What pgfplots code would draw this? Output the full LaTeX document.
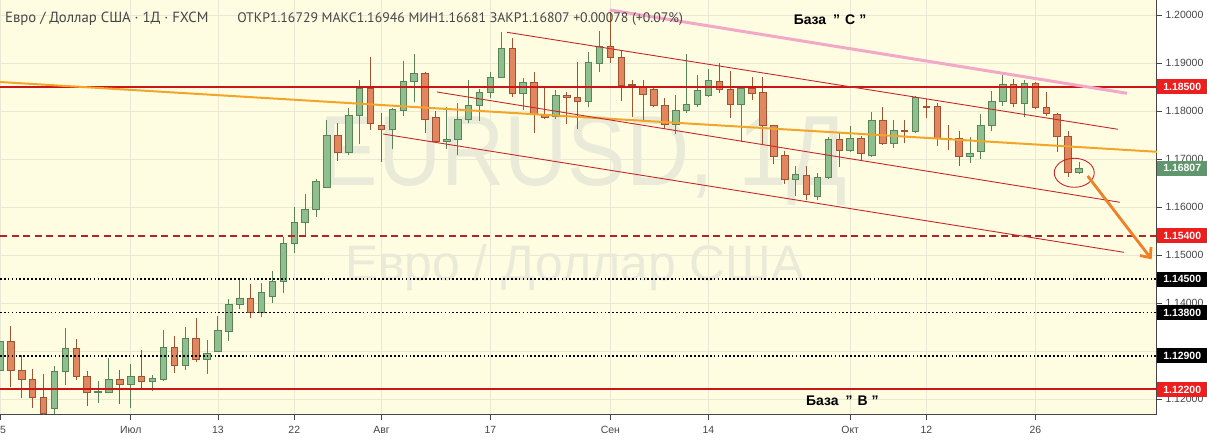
\documentclass[border=0pt]{standalone}
\usepackage{fontspec}
\setmainfont{Liberation Sans}
\newfontfamily\ptsans{PT Sans}
\usepackage{graphicx}
\usepackage{pgfplots}
\usepackage{pgfplotstable}
\pgfplotsset{compat=1.18}
\usetikzlibrary{arrows.meta}

\definecolor{bgy}{RGB}{254,253,226}
\definecolor{gridc}{RGB}{232,232,212}
\definecolor{upfill}{RGB}{143,191,143}
\definecolor{upline}{RGB}{88,132,88}
\definecolor{dnfill}{RGB}{226,134,96}
\definecolor{dnline}{RGB}{158,84,50}
\definecolor{lvlred}{RGB}{204,22,22}
\definecolor{dashred}{RGB}{180,36,36}
\definecolor{chred}{RGB}{198,40,40}
\definecolor{trendor}{RGB}{242,165,40}
\definecolor{arrowor}{RGB}{240,128,40}
\definecolor{pinkl}{RGB}{244,168,200}
\definecolor{wm}{RGB}{234,234,216}
\definecolor{axtxt}{RGB}{70,70,70}
\definecolor{tagred}{RGB}{236,30,30}
\definecolor{taggreen}{RGB}{96,150,110}

\tikzset{
 upwick/.style={draw=upline, line width=1bp},
 dnwick/.style={draw=dnline, line width=1bp},
 upbody/.style={draw=upline, fill=upfill, line width=1bp},
 dnbody/.style={draw=dnline, fill=dnfill, line width=1bp},
 tag/.style={anchor=west, inner sep=0pt, minimum width=50bp, minimum height=15bp, text=white, font=\fontsize{10.5}{12}\selectfont\bfseries},
}

\pgfplotstableread{
i o h l c
0 1.12604 1.13375 1.12562 1.13208
1 1.13208 1.13527 1.12244 1.12604
2 1.12604 1.12917 1.12015 1.12410
3 1.12410 1.12619 1.11819 1.12035
4 1.12035 1.12521 1.11667 1.11702
5 1.11806 1.12688 1.11688 1.12583
6 1.12583 1.13473 1.12292 1.13056
7 1.13056 1.13250 1.12396 1.12465
8 1.12473 1.12590 1.11860 1.12140
9 1.12140 1.12375 1.11923 1.12146
10 1.12140 1.12860 1.12125 1.12396
11 1.12396 1.12604 1.11890 1.12306
12 1.12306 1.12729 1.11819 1.12473
13 1.12473 1.13021 1.12223 1.12360
14 1.12369 1.12500 1.12167 1.12417
15 1.12396 1.13438 1.12375 1.13077
16 1.13077 1.13313 1.12548 1.12708
17 1.12702 1.13506 1.12604 1.13265
18 1.13265 1.13681 1.12777 1.12813
19 1.12827 1.13229 1.12521 1.12952
20 1.12985 1.13729 1.12979 1.13417
21 1.13402 1.14083 1.13215 1.13973
22 1.13973 1.14479 1.13869 1.14098
23 1.14098 1.14396 1.13681 1.13806
24 1.13806 1.14423 1.13702 1.14223
25 1.14140 1.14673 1.14006 1.14452
26 1.14452 1.15381 1.14202 1.15244
27 1.15244 1.16006 1.15048 1.15681
28 1.15681 1.16271 1.15381 1.15952
29 1.15952 1.16590 1.15798 1.16535
30 1.16410 1.17813 1.16406 1.17494
31 1.17494 1.17744 1.16965 1.17140
32 1.17140 1.18056 1.17083 1.17910
33 1.17910 1.18646 1.17306 1.18473
34 1.18473 1.19125 1.17604 1.17744
35 1.17702 1.17952 1.16944 1.17619
36 1.17619 1.18056 1.17202 1.18021
37 1.18015 1.19042 1.17896 1.18619
38 1.18619 1.19181 1.18181 1.18771
39 1.18771 1.18819 1.17548 1.17827
40 1.17869 1.17998 1.17327 1.17360
41 1.17369 1.18077 1.17202 1.17396
42 1.17396 1.18160 1.17083 1.17827
43 1.17827 1.18646 1.17744 1.18119
44 1.18119 1.18458 1.17798 1.18390
45 1.18390 1.18819 1.18265 1.18702
46 1.18702 1.19652 1.18688 1.19306
47 1.19306 1.19515 1.18285 1.18369
48 1.18369 1.18681 1.18021 1.18598
49 1.18598 1.18819 1.17535 1.17931
50 1.17902 1.18473 1.17827 1.17869
51 1.17881 1.18438 1.17827 1.18319
52 1.18319 1.18402 1.17729 1.18277
53 1.18285 1.19027 1.17619 1.18194
54 1.18202 1.19223 1.18077 1.19015
55 1.18994 1.19667 1.18819 1.19340
56 1.19340 1.20063 1.18994 1.19119
57 1.19119 1.19271 1.18214 1.18527
58 1.18542 1.18646 1.17881 1.18521
59 1.18485 1.18646 1.17813 1.18348
60 1.18452 1.18479 1.18083 1.18110
61 1.18110 1.18265 1.17619 1.17723
62 1.17729 1.18333 1.17515 1.18006
63 1.18015 1.19188 1.17965 1.18140
64 1.18140 1.18750 1.18090 1.18431
65 1.18327 1.18875 1.18298 1.18625
66 1.18619 1.19006 1.18381 1.18458
67 1.18452 1.18833 1.17860 1.18140
68 1.18140 1.18521 1.17360 1.18465
69 1.18473 1.18702 1.18229 1.18369
70 1.18390 1.18715 1.17313 1.17702
71 1.17702 1.17708 1.16896 1.17048
72 1.17063 1.17173 1.16479 1.16577
73 1.16577 1.16854 1.16229 1.16667
74 1.16660 1.16854 1.16146 1.16265
75 1.16215 1.16702 1.16146 1.16619
76 1.16610 1.17465 1.16583 1.17410
77 1.17410 1.17548 1.16827 1.17173
78 1.17173 1.17688 1.17152 1.17431
79 1.17431 1.17479 1.16979 1.17119
80 1.17083 1.17985 1.17048 1.17806
81 1.17806 1.18090 1.17292 1.17327
82 1.17327 1.17813 1.17223 1.17598
83 1.17598 1.17813 1.17327 1.17583
84 1.17569 1.18313 1.17535 1.18285
85 1.18098 1.18244 1.17848 1.18083
86 1.18098 1.18173 1.17271 1.17431
87 1.17427 1.17708 1.17188 1.17417
88 1.17431 1.17590 1.16854 1.17048
89 1.17048 1.17452 1.16923 1.17119
90 1.17152 1.17938 1.17000 1.17688
91 1.17688 1.18423 1.17583 1.18208
92 1.18194 1.18750 1.18104 1.18556
93 1.18556 1.18667 1.18077 1.18160
94 1.18160 1.18646 1.17881 1.18577
95 1.18577 1.18610 1.18035 1.18077
96 1.18077 1.18402 1.17896 1.17952
97 1.17931 1.17965 1.17152 1.17465
98 1.17465 1.17590 1.16619 1.16715
99 1.16729 1.16946 1.16681 1.16807
}\ohlc

\begin{document}
\begin{tikzpicture}
\useasboundingbox (0,0) rectangle (1207bp,441bp);
\fill[white] (0,0) rectangle (1207bp,441bp);
\begin{axis}[
  at={(0bp,26bp)}, anchor=south west,
  width=1157bp, height=415bp, scale only axis,
  xmin=0, xmax=106.15, ymin=1.116667, ymax=1.203125,
  axis background/.style={fill=bgy},
  axis x line*=bottom, axis y line*=right,
  axis line style={draw=axtxt, line width=1bp},
  xtick={0,12,20,27,35,45,56,65,78,85,95},
  xticklabels={\hphantom{1}5,Июл,13,22,Авг,17,Сен,14,Окт,12,26},
  ytick={1.12,1.13,1.14,1.15,1.16,1.17,1.18,1.19,1.20},
  yticklabels={1.12000,{},1.14000,1.15000,1.16000,1.17000,1.18000,1.19000,1.20000},
  tick align=outside, major tick length=5bp,
  tick style={draw=axtxt, line width=0.8bp},
  xmajorgrids, ymajorgrids,
  grid style={draw=gridc, line width=0.8bp},
  ticklabel style={font=\fontsize{10.5}{12}\selectfont, text=axtxt},
  xticklabel style={yshift=-3bp},
]
% watermark
\node[text=wm, inner sep=0pt] at (axis cs:53.5,1.16958) {\scalebox{0.88}[1]{\fontsize{100}{100}\selectfont EURUSD, 1Д}};
\node[text=wm, inner sep=0pt] at (axis cs:52.75,1.14729) {\fontsize{50}{50}\selectfont Евро / Доллар США};

% candles
\pgfplotstablegetrowsof{\ohlc}
\pgfmathtruncatemacro{\nrows}{\pgfplotsretval-1}
\pgfplotsforeachungrouped \r in {0,...,\nrows}{%
  \pgfplotstablegetelem{\r}{i}\of\ohlc \edef\ci{\pgfplotsretval}%
  \pgfplotstablegetelem{\r}{o}\of\ohlc \edef\co{\pgfplotsretval}%
  \pgfplotstablegetelem{\r}{h}\of\ohlc \edef\ch{\pgfplotsretval}%
  \pgfplotstablegetelem{\r}{l}\of\ohlc \edef\cl{\pgfplotsretval}%
  \pgfplotstablegetelem{\r}{c}\of\ohlc \edef\cc{\pgfplotsretval}%
  \pgfmathsetmacro{\xa}{\ci-0.3}%
  \pgfmathsetmacro{\xb}{\ci+0.3}%
  \ifdim\cc pt<\co pt \def\ccol{dn}\else\def\ccol{up}\fi
  \edef\temp{\noexpand\addplot[\ccol wick] coordinates {(\ci,\cl) (\ci,\ch)};
    \noexpand\addplot[\ccol body] coordinates {(\xa,\co) (\xb,\co) (\xb,\cc) (\xa,\cc)} -- cycle;}%
  \temp
}

% levels
\addplot[lvlred, line width=2bp] coordinates {(0,1.185) (106.15,1.185)};
\addplot[dashred, line width=2bp, dash pattern=on 7bp off 4.5bp] coordinates {(0,1.154) (106.15,1.154)};
\addplot[black, line width=1.7bp, dash pattern=on 1.7bp off 2.2bp] coordinates {(0,1.145) (106.15,1.145)};
\addplot[black, line width=1.7bp, dash pattern=on 1.7bp off 2.2bp] coordinates {(0,1.138) (106.15,1.138)};
\addplot[black, line width=1.7bp, dash pattern=on 1.7bp off 2.2bp] coordinates {(0,1.129) (106.15,1.129)};
\addplot[lvlred, line width=2bp] coordinates {(0,1.122) (106.15,1.122)};

% trend lines
\addplot[trendor, line width=2bp] coordinates {(0,1.18604) (106.15,1.17150)};
\addplot[pinkl, line width=3bp] coordinates {(55.96,1.20104) (103.39,1.18369)};
\addplot[chred, line width=0.9bp] coordinates {(46.51,1.19640) (102.57,1.17619)};
\addplot[chred, line width=0.9bp] coordinates {(40.09,1.18396) (102.75,1.16098)};
\addplot[chred, line width=0.9bp] coordinates {(35.14,1.17521) (103.12,1.15056)};
\draw[chred, line width=0.9bp] (axis cs:98.56,1.16713) ellipse [x radius=20bp, y radius=14.5bp];
\addplot[arrowor, line width=2.8bp, -{Straight Barb[length=8bp,width=14bp]}] coordinates {(99.79,1.16646) (105.66,1.14910)};

\node[font=\fontsize{14}{16}\selectfont\bfseries] at (axis cs:76.15,1.19896) {База\hspace{7bp}\symbol{34}\hspace{5bp}С\hspace{4bp}\symbol{34}};
\node[font=\fontsize{14}{16}\selectfont\bfseries] at (axis cs:77.28,1.11958) {База\hspace{7bp}\symbol{34}\hspace{5bp}В\hspace{4bp}\symbol{34}};

\coordinate (t185) at (axis cs:106.15,1.185);
\coordinate (t168) at (axis cs:106.15,1.16807);
\coordinate (t154) at (axis cs:106.15,1.154);
\coordinate (t145) at (axis cs:106.15,1.145);
\coordinate (t138) at (axis cs:106.15,1.138);
\coordinate (t129) at (axis cs:106.15,1.129);
\coordinate (t122) at (axis cs:106.15,1.122);
\end{axis}

\node[tag, fill=tagred] at (t185) {1.18500};
\node[tag, fill=taggreen] at (t168) {1.16807};
\node[tag, fill=tagred] at (t154) {1.15400};
\node[tag, fill=black] at (t145) {1.14500};
\node[tag, fill=black] at (t138) {1.13800};
\node[tag, fill=black] at (t129) {1.12900};
\node[tag, fill=tagred] at (t122) {1.12200};

\node[anchor=base west, inner sep=0pt, text=axtxt] at (5bp,418bp)
  {\ptsans\fontsize{14.8}{17}\selectfont Евро / Доллар США · 1Д · FXCM\hspace{29bp}%
   \fontsize{13.85}{15}\selectfont ОТКР1.16729 МАКС1.16946 МИН1.16681 ЗАКР1.16807 +0.00078 (+0.07\%)};
\end{tikzpicture}
\end{document}
